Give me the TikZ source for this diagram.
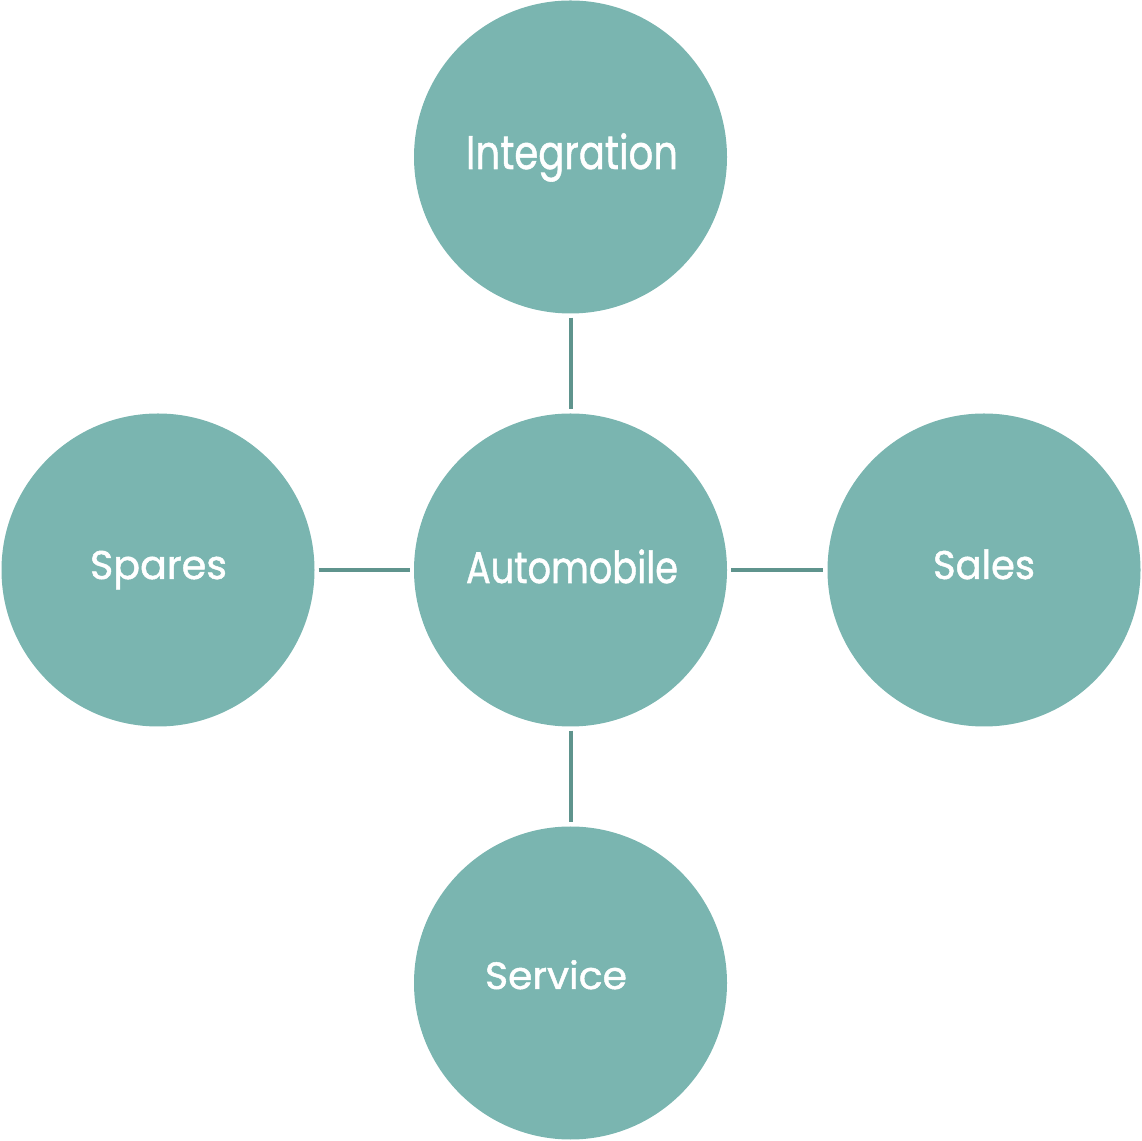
\documentclass[tikz,border=0pt]{standalone}
\usepackage{fontspec}
\setmainfont{Poppins}[FakeBold=1.2]
\usepackage{graphicx}
\definecolor{bubble}{HTML}{7AB5B0}
\definecolor{link}{HTML}{5F948D}
\newcommand{\fitword}[3]{\resizebox{#1}{\height}{\fontsize{#2}{#2}\selectfont #3}}
\begin{document}
\begin{tikzpicture}[x=1pt,y=1pt,
  bubble/.style={circle,fill=bubble,minimum size=313pt,inner sep=0pt},
  word/.style={anchor=base,text=white,inner sep=0pt},
  linkline/.style={draw=link,line width=4pt,shorten <=4pt,shorten >=4pt}]
\useasboundingbox (0,0) rectangle (1142,1140);
\node[bubble] (auto) at (570.5,570) {};
\node[bubble] (integ) at (570.5,983) {};
\node[bubble] (spares) at (158,570) {};
\node[bubble] (sales) at (984,570) {};
\node[bubble] (service) at (570.5,157) {};
\node[word] (tinteg) at (572,971) {\fitword{212pt}{47pt}{Integration}};
\node[word] (tauto) at (572,557) {\fitword{212pt}{44pt}{Automobile}};
\node[word] (tspares) at (158.5,561) {\fitword{137pt}{40pt}{Spares}};
\node[word] (tsales) at (984,561) {\fitword{102pt}{40pt}{Sales}};
\node[word] (tservice) at (556,151) {\fitword{142pt}{38pt}{Service}};
\draw[linkline] (integ) -- (auto);
\draw[linkline] (auto) -- (service);
\draw[linkline] (spares) -- (auto);
\draw[linkline] (auto) -- (sales);
\end{tikzpicture}
\end{document}
